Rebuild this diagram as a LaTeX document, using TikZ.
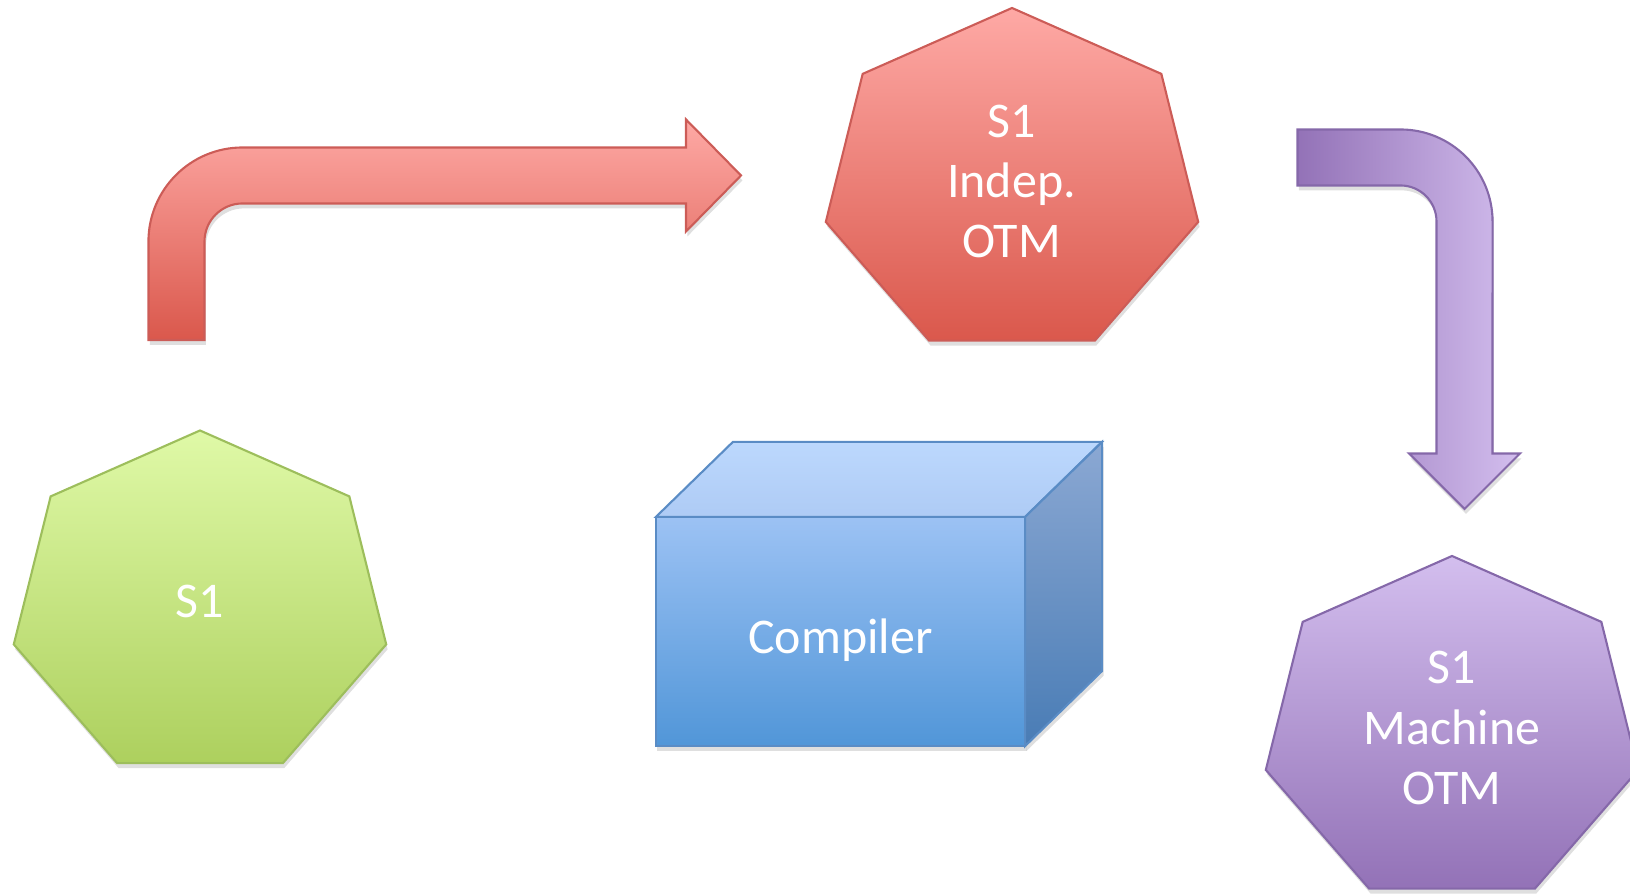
\documentclass[tikz,border=0pt]{standalone}
\usepackage{fontspec}
\setmainfont{Carlito}
\usepackage{tikz}
\usetikzlibrary{calc,shadows}
\definecolor{grntop}{HTML}{DFF9A7}
\definecolor{grnbot}{HTML}{ADD05E}
\definecolor{grnln}{HTML}{9DBE5C}
\definecolor{redtop}{HTML}{FEA9A5}
\definecolor{redbot}{HTML}{DA584C}
\definecolor{redln}{HTML}{CC5C57}
\definecolor{purtop}{HTML}{D3BEEE}
\definecolor{purbot}{HTML}{9372B7}
\definecolor{purln}{HTML}{8568A9}
\definecolor{blutop}{HTML}{9CC2F4}
\definecolor{blubot}{HTML}{5196D8}
\definecolor{blulid}{HTML}{BCD8FD}
\definecolor{blulidb}{HTML}{AECBF5}
\definecolor{bluside}{HTML}{8BA8D3}
\definecolor{blusideb}{HTML}{497CB5}
\definecolor{bluln}{HTML}{5A8CC5}
\tikzset{
  shd/.style={drop shadow={shadow xshift=0.4pt,shadow yshift=-1.4pt,opacity=0.25}},
  lbl/.style={text=white,font=\fontsize{14.2}{17.2}\selectfont,align=center,inner sep=0pt},
  grnhep/.style={shd,draw=grnln,line width=0.6pt,top color=grntop,bottom color=grnbot},
  redhep/.style={shd,draw=redln,line width=0.6pt,top color=redtop,bottom color=redbot},
  purhep/.style={shd,draw=purln,line width=0.6pt,top color=purtop,bottom color=purbot},
  redarr/.style={shd,draw=redln,line width=0.6pt,top color=redtop,bottom color=redbot},
  purarr/.style={shd,draw=purln,line width=0.6pt,left color=purbot,right color=purtop},
  front/.style={lbl,shd,draw=bluln,line width=0.6pt,top color=blutop,bottom color=blubot,
    minimum width=3.69cm,minimum height=2.29cm,outer sep=0pt,text height=12.6pt,text depth=0pt},
  lid/.style={draw=bluln,line width=0.6pt,top color=blulid,bottom color=blulidb},
  side/.style={shd,draw=bluln,line width=0.6pt,top color=bluside,bottom color=blusideb}
}
% heptagon round a centre
\newcommand{\hepta}[2]{%
  \path[#2,shift={(#1)}] (90:191 and 175)
    \foreach \k in {1,...,6}{ -- (90+\k*360/7:191 and 175)} -- cycle;}
\begin{document}
\begin{tikzpicture}[x=0.01cm,y=0.01cm]
\useasboundingbox (0,0) rectangle (1630,895);
% bent arrows
\path[redarr] (148.5,555) -- (204.5,555) -- (204.5,653.5)
  arc[start angle=180,end angle=90,radius=0.38cm] -- (686,691.5) -- (686,663.5)
  -- (741,719.5) -- (686,775.5) -- (686,747.5) -- (242.5,747.5)
  arc[start angle=90,end angle=180,radius=0.94cm] -- cycle;
\path[purarr] (1297.5,765.5) -- (1400.5,765.5)
  arc[start angle=90,end angle=0,radius=0.92cm] -- (1492.5,441.5) -- (1520,441.5)
  -- (1464.5,386) -- (1409,441.5) -- (1436.5,441.5) -- (1436.5,673.5)
  arc[start angle=0,end angle=90,radius=0.36cm] -- (1297.5,709.5) -- cycle;
% heptagons
\hepta{200,289.5}{grnhep}
\hepta{1012,712}{redhep}
\hepta{1452,164}{purhep}
\node[lbl] (src) at (200,294) {S1};
\node[lbl] (indep) at (1011.5,713.5) {S1\\Indep.\\OTM};
\node[lbl] (mach) at (1452,167) {S1\\Machine\\OTM};
% compiler box
\node[front] (comp) at (840.5,263.5) {Compiler};
\path[lid] (comp.north west) -- ++(77,75) -- ++(369,0) -- (comp.north east) -- cycle;
\path[side] (comp.north east) -- ++(77,75) -- ++(0,-229) -- (comp.south east) -- cycle;
\end{tikzpicture}
\end{document}
